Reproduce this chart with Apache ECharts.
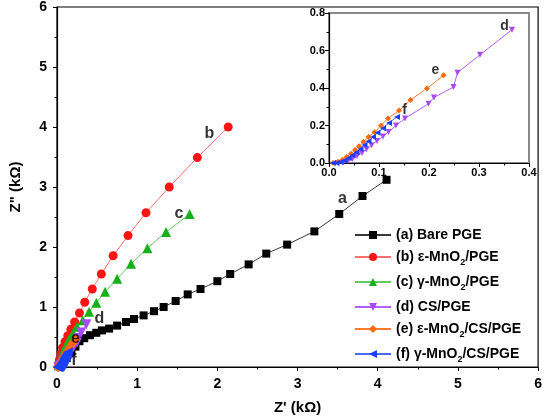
<!DOCTYPE html>
<html><head><meta charset="utf-8">
<script src="https://cdn.jsdelivr.net/npm/echarts@6/dist/echarts.min.js"></script>
<style>html,body{margin:0;padding:0;background:#fff}#c{width:545px;height:420px}</style>
</head><body><div id="c"></div>
<script>
// ---- data (kΩ) ----
const aX = [0.04,0.07,0.12,0.18,0.23,0.28,0.34,0.41,0.49,0.56,0.65,0.75,0.86,0.96,1.08,1.21,1.33,1.48,1.63,1.79,2.00,2.16,2.39,2.61,2.87,3.21,3.52,3.81,4.11];
const aY = [0.01,0.06,0.15,0.25,0.34,0.43,0.48,0.53,0.57,0.61,0.64,0.69,0.75,0.80,0.86,0.93,1.00,1.10,1.21,1.30,1.43,1.55,1.71,1.89,2.04,2.26,2.55,2.85,3.12];
const bX = [0.02,0.03,0.05,0.07,0.10,0.135,0.173,0.22,0.28,0.346,0.44,0.553,0.70,0.886,1.11,1.40,1.75,2.135];
const bY = [0.05,0.12,0.22,0.32,0.42,0.52,0.63,0.75,0.90,1.08,1.30,1.55,1.855,2.19,2.57,3.00,3.49,4.00];
const cX = [0.02,0.03,0.05,0.08,0.11,0.15,0.20,0.25,0.32,0.40,0.49,0.60,0.75,0.924,1.127,1.36,1.654];
const cY = [0.03,0.08,0.17,0.27,0.36,0.46,0.57,0.67,0.78,0.92,1.07,1.255,1.47,1.72,1.98,2.25,2.55];
const dX = [0.018,0.028,0.038,0.047,0.056,0.066,0.075,0.085,0.096,0.108,0.119,0.134,0.152,0.199,0.210,0.249,0.257,0.302,0.366];
const dY = [0.0,0.002,0.011,0.021,0.037,0.054,0.073,0.095,0.118,0.141,0.166,0.200,0.238,0.316,0.350,0.405,0.482,0.577,0.711];
const eX = [0.008,0.018,0.027,0.035,0.044,0.052,0.060,0.069,0.079,0.091,0.104,0.118,0.140,0.163,0.196,0.229];
const eY = [0.0,0.007,0.018,0.032,0.050,0.070,0.089,0.113,0.139,0.164,0.200,0.238,0.280,0.336,0.398,0.468];
const fX = [0.008,0.015,0.023,0.031,0.039,0.047,0.055,0.063,0.071,0.079,0.088,0.097,0.108,0.120,0.136];
const fY = [0.0,0.0,0.005,0.014,0.027,0.041,0.057,0.075,0.096,0.116,0.139,0.161,0.186,0.214,0.246];
const seriesNames = ['(a) Bare PGE','(b) ε-MnO2/PGE','(c) γ-MnO2/PGE','(d) CS/PGE','(e) ε-MnO2/CS/PGE','(f) γ-MnO2/CS/PGE'];
const mainLabelText = ['a','b','c','d','e','f'];
const mainLabelX = [3.56,1.90,1.52,0.53,0.23,0.21];
const mainLabelY = [2.80,3.89,2.56,0.80,0.47,0.11];
const insetLabelText = ['d','e','f'];
const insetLabelX = [0.351,0.213,0.151];
const insetLabelY = [0.732,0.495,0.280];
const mainXTicks = {min:0,max:6,interval:1};
const mainYTicks = {min:0,max:6,interval:1};
const insetXTicks = {min:0,max:0.4,interval:0.1};
const insetYTicks = {min:0,max:0.8,interval:0.2};

const zip = (xs, ys) => xs.map((x, i) => [x, ys[i]]);
const FONT = '"Liberation Sans", Arial, sans-serif';
const diamond = 'path://M0,-1L1,0L0,1L-1,0Z';
const styles = [
  {sym:'rect', rot:0, mc:'#000000', lc:'#3a3a3a', size:8, isize:5},
  {sym:'circle', rot:0, mc:'#ff1414', lc:'#ff7070', size:9, isize:5},
  {sym:'triangle', rot:0, mc:'#18b018', lc:'#60cc60', size:10, isize:6},
  {sym:'triangle', rot:180, mc:'#a848ff', lc:'#b060ff', size:10, isize:6},
  {sym:diamond, rot:0, mc:'#ff6a10', lc:'#ff7a30', size:10, isize:6},
  {sym:'triangle', rot:90, mc:'#1a40ff', lc:'#4a6aff', size:10, isize:6}
];
const dataSets = [zip(aX,aY), zip(bX,bY), zip(cX,cY), zip(dX,dY), zip(eX,eY), zip(fX,fY)];

function axisCommon(t, fs, fmt, margin) {
  return {
    type:'value', min:t.min, max:t.max, interval:t.interval,
    axisLine:{show:true, onZero:false, lineStyle:{color:'#000', width:1.2}},
    axisTick:{show:true, inside:false, length:4, lineStyle:{color:'#000'}},
    minorTick:{show:true, splitNumber:2, length:2.5, lineStyle:{color:'#000'}},
    splitLine:{show:false},
    axisLabel:{fontFamily:FONT, fontWeight:'bold', fontSize:fs, color:'#000', margin:margin, formatter:fmt}
  };
}

const series = [];
dataSets.forEach((d, i) => {
  const s = styles[i];
  series.push({
    name: seriesNames[i], type:'line', xAxisIndex:0, yAxisIndex:0, data:d,
    symbol:s.sym, symbolRotate:s.rot, symbolSize:s.size, showSymbol:true,
    itemStyle:{color:s.mc}, lineStyle:{color:s.lc, width:1}, z:2+i, animation:false
  });
});
[3,4,5].forEach(i => {
  const s = styles[i];
  series.push({
    name: seriesNames[i], type:'line', xAxisIndex:1, yAxisIndex:1, data:dataSets[i],
    symbol:s.sym, symbolRotate:s.rot, symbolSize:s.isize, showSymbol:true,
    itemStyle:{color:s.mc}, lineStyle:{color:s.lc, width:1}, z:20+i, animation:false
  });
});
series.push({
  type:'scatter', xAxisIndex:0, yAxisIndex:0, symbolSize:0, z:30, silent:true,
  data: mainLabelX.map((x,i)=>({value:[x, mainLabelY[i]], label:{formatter:mainLabelText[i]}})),
  label:{show:true, position:'inside', fontFamily:FONT, fontWeight:'bold', fontSize:16, color:'#000'}
});
series.push({
  type:'scatter', xAxisIndex:1, yAxisIndex:1, symbolSize:0, z:40, silent:true,
  data: insetLabelX.map((x,i)=>({value:[x, insetLabelY[i]], label:{formatter:insetLabelText[i]}})),
  label:{show:true, position:'inside', fontFamily:FONT, fontWeight:'bold', fontSize:14, color:'#000'}
});

const chart = echarts.init(document.getElementById('c'), null, {renderer:'canvas'});
chart.setOption({
  animation:false,
  backgroundColor:'#fff',
  grid:[
    {left:46, right:5, top:6, bottom:48, show:true, borderColor:'#000', borderWidth:1.2, backgroundColor:'#fff'},
    {left:329, right:16, top:13, bottom:257, show:true, borderColor:'#8a8a8a', borderWidth:2, backgroundColor:'#fff', z:10}
  ],
  xAxis:[
    Object.assign(axisCommon(mainXTicks, 14, v=>String(v), 10), {gridIndex:0,
      name:"Z' (kΩ)", nameLocation:'middle', nameGap:33,
      nameTextStyle:{fontFamily:FONT, fontWeight:'bold', fontSize:15, color:'#000'}}),
    Object.assign(axisCommon(insetXTicks, 11, v=>v.toFixed(1), 4), {gridIndex:1, z:15})
  ],
  yAxis:[
    Object.assign(axisCommon(mainYTicks, 14, v=>String(v), 10), {gridIndex:0,
      name:'Z" (kΩ)', nameLocation:'middle', nameGap:34,
      nameTextStyle:{fontFamily:FONT, fontWeight:'bold', fontSize:15, color:'#000'}}),
    Object.assign(axisCommon(insetYTicks, 11, v=>v.toFixed(1), 4), {gridIndex:1, z:15})
  ],
  legend:{
    data: seriesNames, orient:'vertical', left:354, top:228, itemGap:8,
    itemWidth:36, itemHeight:10, padding:0,
    textStyle:{fontFamily:FONT, fontWeight:'bold', fontSize:14, color:'#000',
      rich:{
        t:{fontFamily:FONT, fontWeight:'bold', fontSize:14, color:'#000'},
        s:{fontFamily:FONT, fontWeight:'bold', fontSize:9, color:'#000', verticalAlign:'bottom', lineHeight:20}
      }},
    formatter: n => n.split('2').map(p=>'{t|'+p+'}').join('{s|2}')
  },
  series: series
});
</script></body></html>
